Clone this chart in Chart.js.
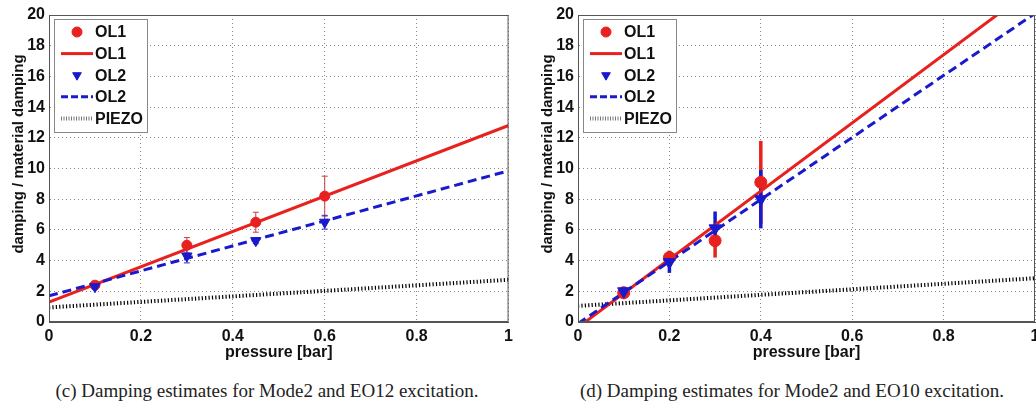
<!DOCTYPE html>
<html>
<head>
<meta charset="utf-8">
<script src="https://cdn.jsdelivr.net/npm/chart.js@4"></script>
<style>
  html, body { margin: 0; padding: 0; background: #fff; }
  body { width: 1036px; height: 403px; overflow: hidden; position: relative; }
  canvas { position: absolute; top: 0; }
  #chartC { left: 0; }
  #chartD { left: 529px; }
  .caption {
    position: absolute; top: 380px; width: 520px; text-align: center;
    font: 19px "Liberation Serif", "Times New Roman", serif; color: #222;
    line-height: 22px; white-space: nowrap;
  }
</style>
</head>
<body>
<canvas id="chartC" width="518" height="364"></canvas>
<canvas id="chartD" width="520" height="364"></canvas>
<div class="caption" style="left:7px">(c) Damping estimates for Mode2 and EO12 excitation.</div>
<div class="caption" style="left:532px">(d) Damping estimates for Mode2 and EO10 excitation.</div>

<script>
// (c) Mode2 / EO12
const pressureC = [0.1, 0.3, 0.45, 0.6];
const ol1C = [2.4, 5.0, 6.5, 8.2];
const ol1ErrC = [0.2, 0.5, 0.65, 1.3];
const ol2C = [2.3, 4.3, 5.3, 6.5];
const ol2ErrC = [0.15, 0.45, 0.2, 0.45];

// (d) Mode2 / EO10
const pressureD = [0.1, 0.2, 0.3, 0.4];
const ol1D = [1.9, 4.2, 5.3, 9.1];
const ol1ErrD = [0.3, 0.45, 1.1, 2.7];
const ol2D = [2.0, 3.9, 6.1, 8.0];
const ol2ErrD = [0.3, 0.7, 1.1, 1.9];

// fitted lines, evaluated at pressure 0 and 1
const fitX = [0, 1];
const ol1FitC = [1.3, 12.8];
const ol2FitC = [1.7, 9.85];
const piezoC = [0.95, 2.75];
const ol1FitD = [-0.35, 21.85];
const ol2FitD = [-0.1, 20.1];
const piezoD = [1.05, 2.85];

const xTicks = [0, 0.2, 0.4, 0.6, 0.8, 1];
const yTicks = [0, 2, 4, 6, 8, 10, 12, 14, 16, 18, 20];

const RED = "#e8211e";
const BLUE = "#1a1acd";
const FONT = '"Liberation Sans", Arial, sans-serif';

const pts = (xs, ys) => xs.map((x, i) => ({ x: x, y: ys[i] }));

const errorBars = {
  id: "errorBars",
  beforeDatasetsDraw(chart, args, opts) {
    const { ctx, scales: { x, y } } = chart;
    ctx.save();
    chart.data.datasets.forEach(ds => {
      if (!ds.errors) return;
      ctx.strokeStyle = ds.errorColor;
      ctx.lineWidth = opts.width;
      ds.data.forEach((p, i) => {
        const px = x.getPixelForValue(p.x);
        const lo = y.getPixelForValue(p.y - ds.errors[i]);
        const hi = y.getPixelForValue(p.y + ds.errors[i]);
        ctx.beginPath();
        ctx.moveTo(px, lo);
        ctx.lineTo(px, hi);
        if (opts.cap) {
          ctx.moveTo(px - opts.cap, lo); ctx.lineTo(px + opts.cap, lo);
          ctx.moveTo(px - opts.cap, hi); ctx.lineTo(px + opts.cap, hi);
        }
        ctx.stroke();
      });
    });
    ctx.restore();
  }
};

const frameAndLegend = {
  id: "frameAndLegend",
  afterDatasetsDraw(chart) {
    const { ctx, chartArea: a } = chart;
    ctx.save();
    ctx.strokeStyle = "#555";
    ctx.lineWidth = 1;
    ctx.strokeRect(a.left + 0.5, a.top + 0.5, a.right - a.left - 1, a.bottom - a.top - 1);
    ctx.restore();
  },
  afterDraw(chart) {
    const { ctx, chartArea: a } = chart;
    const x0 = a.left + 5, y0 = a.top + 4, w = 93, h = 113;
    ctx.save();
    ctx.fillStyle = "#fff";
    ctx.fillRect(x0, y0, w, h);
    ctx.strokeStyle = "#888";
    ctx.lineWidth = 1;
    ctx.strokeRect(x0 + 0.5, y0 + 0.5, w, h);
    ctx.font = "bold 16px " + FONT;
    ctx.textBaseline = "middle";
    chart.data.datasets.forEach((ds, i) => {
      const y = y0 + 13 + i * 21.6;
      ctx.save();
      if (ds.showLine) {
        ctx.strokeStyle = ds.legendColor || ds.borderColor;
        ctx.lineWidth = ds.legendWidth || Math.min(ds.borderWidth, 3);
        ctx.setLineDash(ds.legendDash || ds.borderDash || []);
        ctx.beginPath();
        ctx.moveTo(x0 + 7, y);
        ctx.lineTo(x0 + 39, y);
        ctx.stroke();
      } else {
        ctx.fillStyle = ds.backgroundColor;
        ctx.strokeStyle = ds.borderColor;
        Chart.helpers.drawPoint(ctx, {
          pointStyle: ds.pointStyle,
          rotation: ds.pointRotation || 0,
          radius: 5,
          borderWidth: 1
        }, x0 + 23, y);
      }
      ctx.restore();
      ctx.fillStyle = "#111";
      ctx.fillText(ds.label, x0 + 41, y + 1);
    });
    // rotated y axis label
    ctx.font = "bold 15px " + FONT;
    ctx.textAlign = "center";
    ctx.translate(19, 154);
    ctx.rotate(-Math.PI / 2);
    ctx.fillText("damping / material damping", 0, 0);
    ctx.restore();
  }
};

function makeChart(id, px, o1, e1, o2, e2, f1, f2, fp, style) {
  const datasets = [
    { label: "OL1", data: pts(px, o1), errors: e1, errorColor: style.red1,
      showLine: false, pointStyle: "circle", pointRadius: style.circle,
      backgroundColor: RED, borderColor: RED, borderWidth: 1, order: 1 },
    { label: "OL1", data: pts(fitX, f1), showLine: true, pointRadius: 0,
      borderColor: RED, borderWidth: 3, clip: 0, order: 3 },
    { label: "OL2", data: pts(px, o2), errors: e2, errorColor: style.blue1,
      showLine: false, pointStyle: "triangle", pointRotation: 180, pointRadius: style.tri,
      backgroundColor: BLUE, borderColor: BLUE, borderWidth: 1, order: 0 },
    { label: "OL2", data: pts(fitX, f2), showLine: true, pointRadius: 0,
      borderColor: BLUE, borderWidth: 3, borderDash: [9, 5], legendDash: [7, 3], clip: 0, order: 2 },
    { label: "PIEZO", data: pts(fitX, fp), showLine: true, pointRadius: 0,
      borderColor: "#000", borderWidth: 4, borderDash: [1.2, 2.2], clip: 0, order: 4,
      legendDash: [1, 1.5], legendColor: "#777", legendWidth: 4 }
  ];

  const tickFont = { family: FONT, size: 16, weight: "bold" };

  return new Chart(document.getElementById(id), {
    type: "scatter",
    data: { datasets: datasets },
    plugins: [errorBars, frameAndLegend],
    options: {
      responsive: false,
      animation: false,
      devicePixelRatio: 1,
      layout: { padding: { left: 0, top: 15, right: style.padRight, bottom: 0 } },
      plugins: {
        legend: { display: false },
        tooltip: { enabled: false },
        errorBars: { width: style.errWidth, cap: style.cap }
      },
      scales: {
        x: {
          type: "linear", min: 0, max: 1,
          afterBuildTicks: s => { s.ticks = xTicks.map(v => ({ value: v })); },
          afterFit: s => { s.height = 42; },
          grid: { color: "#888", drawTicks: false },
          border: { color: "#555", dash: [1, 3] },
          ticks: { color: "#111", padding: 5, font: tickFont, callback: v => String(v) },
          title: { display: true, text: "pressure [bar]", color: "#111",
                   padding: { top: 0, bottom: 2 }, font: tickFont }
        },
        y: {
          type: "linear", min: 0, max: 20,
          afterBuildTicks: s => { s.ticks = yTicks.map(v => ({ value: v })); },
          afterFit: s => { s.width = 49; },
          grid: { color: "#888", drawTicks: false },
          border: { color: "#555", dash: [1, 3] },
          ticks: { color: "#111", padding: 4, font: tickFont, callback: v => String(v) }
        }
      }
    }
  });
}

makeChart("chartC", pressureC, ol1C, ol1ErrC, ol2C, ol2ErrC, ol1FitC, ol2FitC, piezoC,
  { red1: "#c83c3c", blue1: "#3030c0", circle: 5, tri: 6, errWidth: 1, cap: 3, padRight: 9 });
makeChart("chartD", pressureD, ol1D, ol1ErrD, ol2D, ol2ErrD, ol1FitD, ol2FitD, piezoD,
  { red1: RED, blue1: BLUE, circle: 6, tri: 7, errWidth: 3.5, cap: 0, padRight: 14 });
</script>
</body>
</html>
